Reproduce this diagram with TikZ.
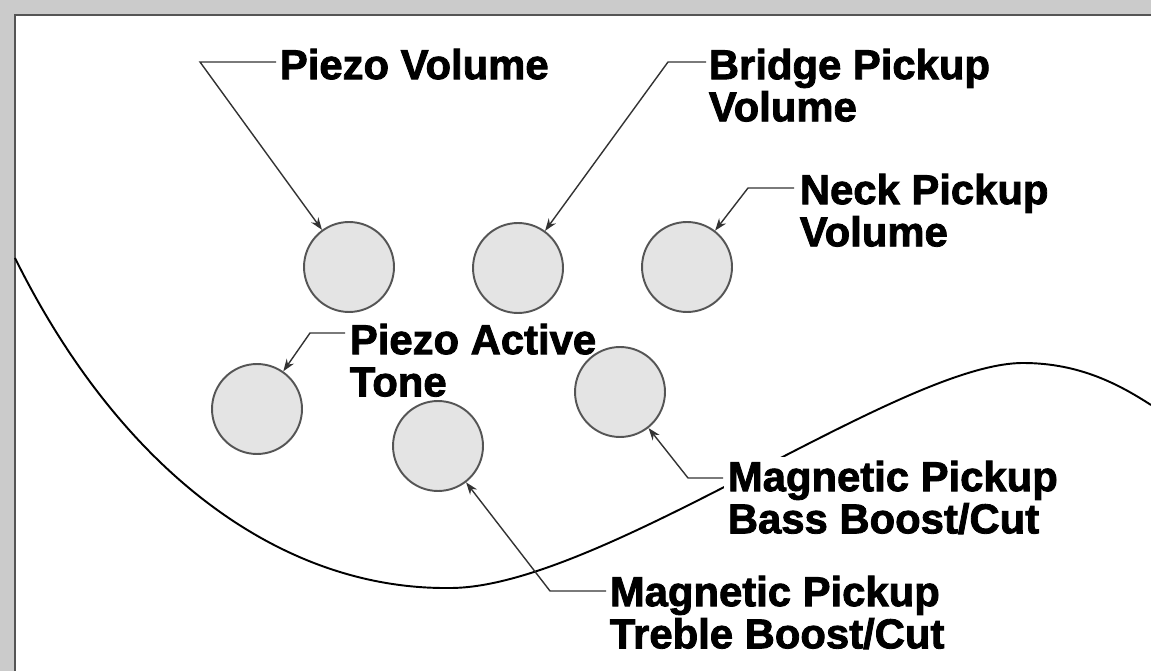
\documentclass[tikz,border=0pt]{standalone}
\usepackage{fontspec}
\newfontfamily\knobfont[FakeBold=2]{Liberation Sans}
\usetikzlibrary{arrows.meta}
\definecolor{framegray}{HTML}{CBCBCB}
\definecolor{knobgray}{HTML}{E4E4E4}
\definecolor{rimgray}{HTML}{555555}
\tikzset{
  knob/.style={circle, draw=rimgray, fill=knobgray, line width=1.1pt, minimum size=1.8cm, inner sep=0pt},
  tag/.style={anchor=north west, fill=white, inner sep=2pt, align=left,
    font=\knobfont\bfseries\fontsize{23.8}{24}\selectfont},
  lead/.style={draw=black!80, line width=0.8pt, -{Stealth[length=7pt,width=5pt]}},
}
\begin{document}
\begin{tikzpicture}[x=0.02cm, y=-0.02cm]
\useasboundingbox (0,0) rectangle (1151,671);
\fill[framegray] (0,0) rectangle (1151,671);
\fill[white] (15,15) rectangle (1151,671);
\draw[rimgray, line width=1.2pt] (15,671) -- (15,15) -- (1151,15);
% body outline
\draw[line width=1.1pt] (15,258) .. controls (120,470) and (280,590) .. (450,588)
  .. controls (600,588) and (900,363) .. (1023,363)
  .. controls (1080,363) and (1120,385) .. (1151,405);
% labels
\node[tag] (pvolT) at (276,45) {Piezo Volume};
\node[tag] (bvolT) at (705,45) {Bridge Pickup\\Volume};
\node[tag] (nvolT) at (796,170) {Neck Pickup\\Volume};
\node[tag] (ptoneT) at (346,320) {Piezo Active\\Tone};
\node[tag] (bassT) at (724,457) {Magnetic Pickup\\Bass Boost/Cut};
\node[tag] (trebleT) at (606,572) {Magnetic Pickup\\Treble Boost/Cut};
% knobs
\node[knob] (pvol) at (349,267) {};
\node[knob] (bvol) at (518,268) {};
\node[knob] (nvol) at (687,267) {};
\node[knob] (ptone) at (257,409) {};
\node[knob] (treble) at (438,446) {};
\node[knob] (bass) at (620,392) {};
% leaders
\coordinate (pvolE) at (276,62);
\coordinate (bvolE) at (706,62);
\coordinate (nvolE) at (794,188);
\coordinate (ptoneE) at (345,333);
\coordinate (bassE) at (723,478);
\coordinate (trebleE) at (606,591);
\draw[lead] (pvolE) -- ++(-76,0) -- (pvol);
\draw[lead] (bvolE) -- ++(-38,0) -- (bvol);
\draw[lead] (nvolE) -- ++(-46,0) -- (nvol);
\draw[lead] (ptoneE) -- ++(-35,0) -- (ptone);
\draw[lead] (bassE) -- ++(-35,0) -- (bass);
\draw[lead] (trebleE) -- ++(-56,0) -- (treble);
\end{tikzpicture}
\end{document}
